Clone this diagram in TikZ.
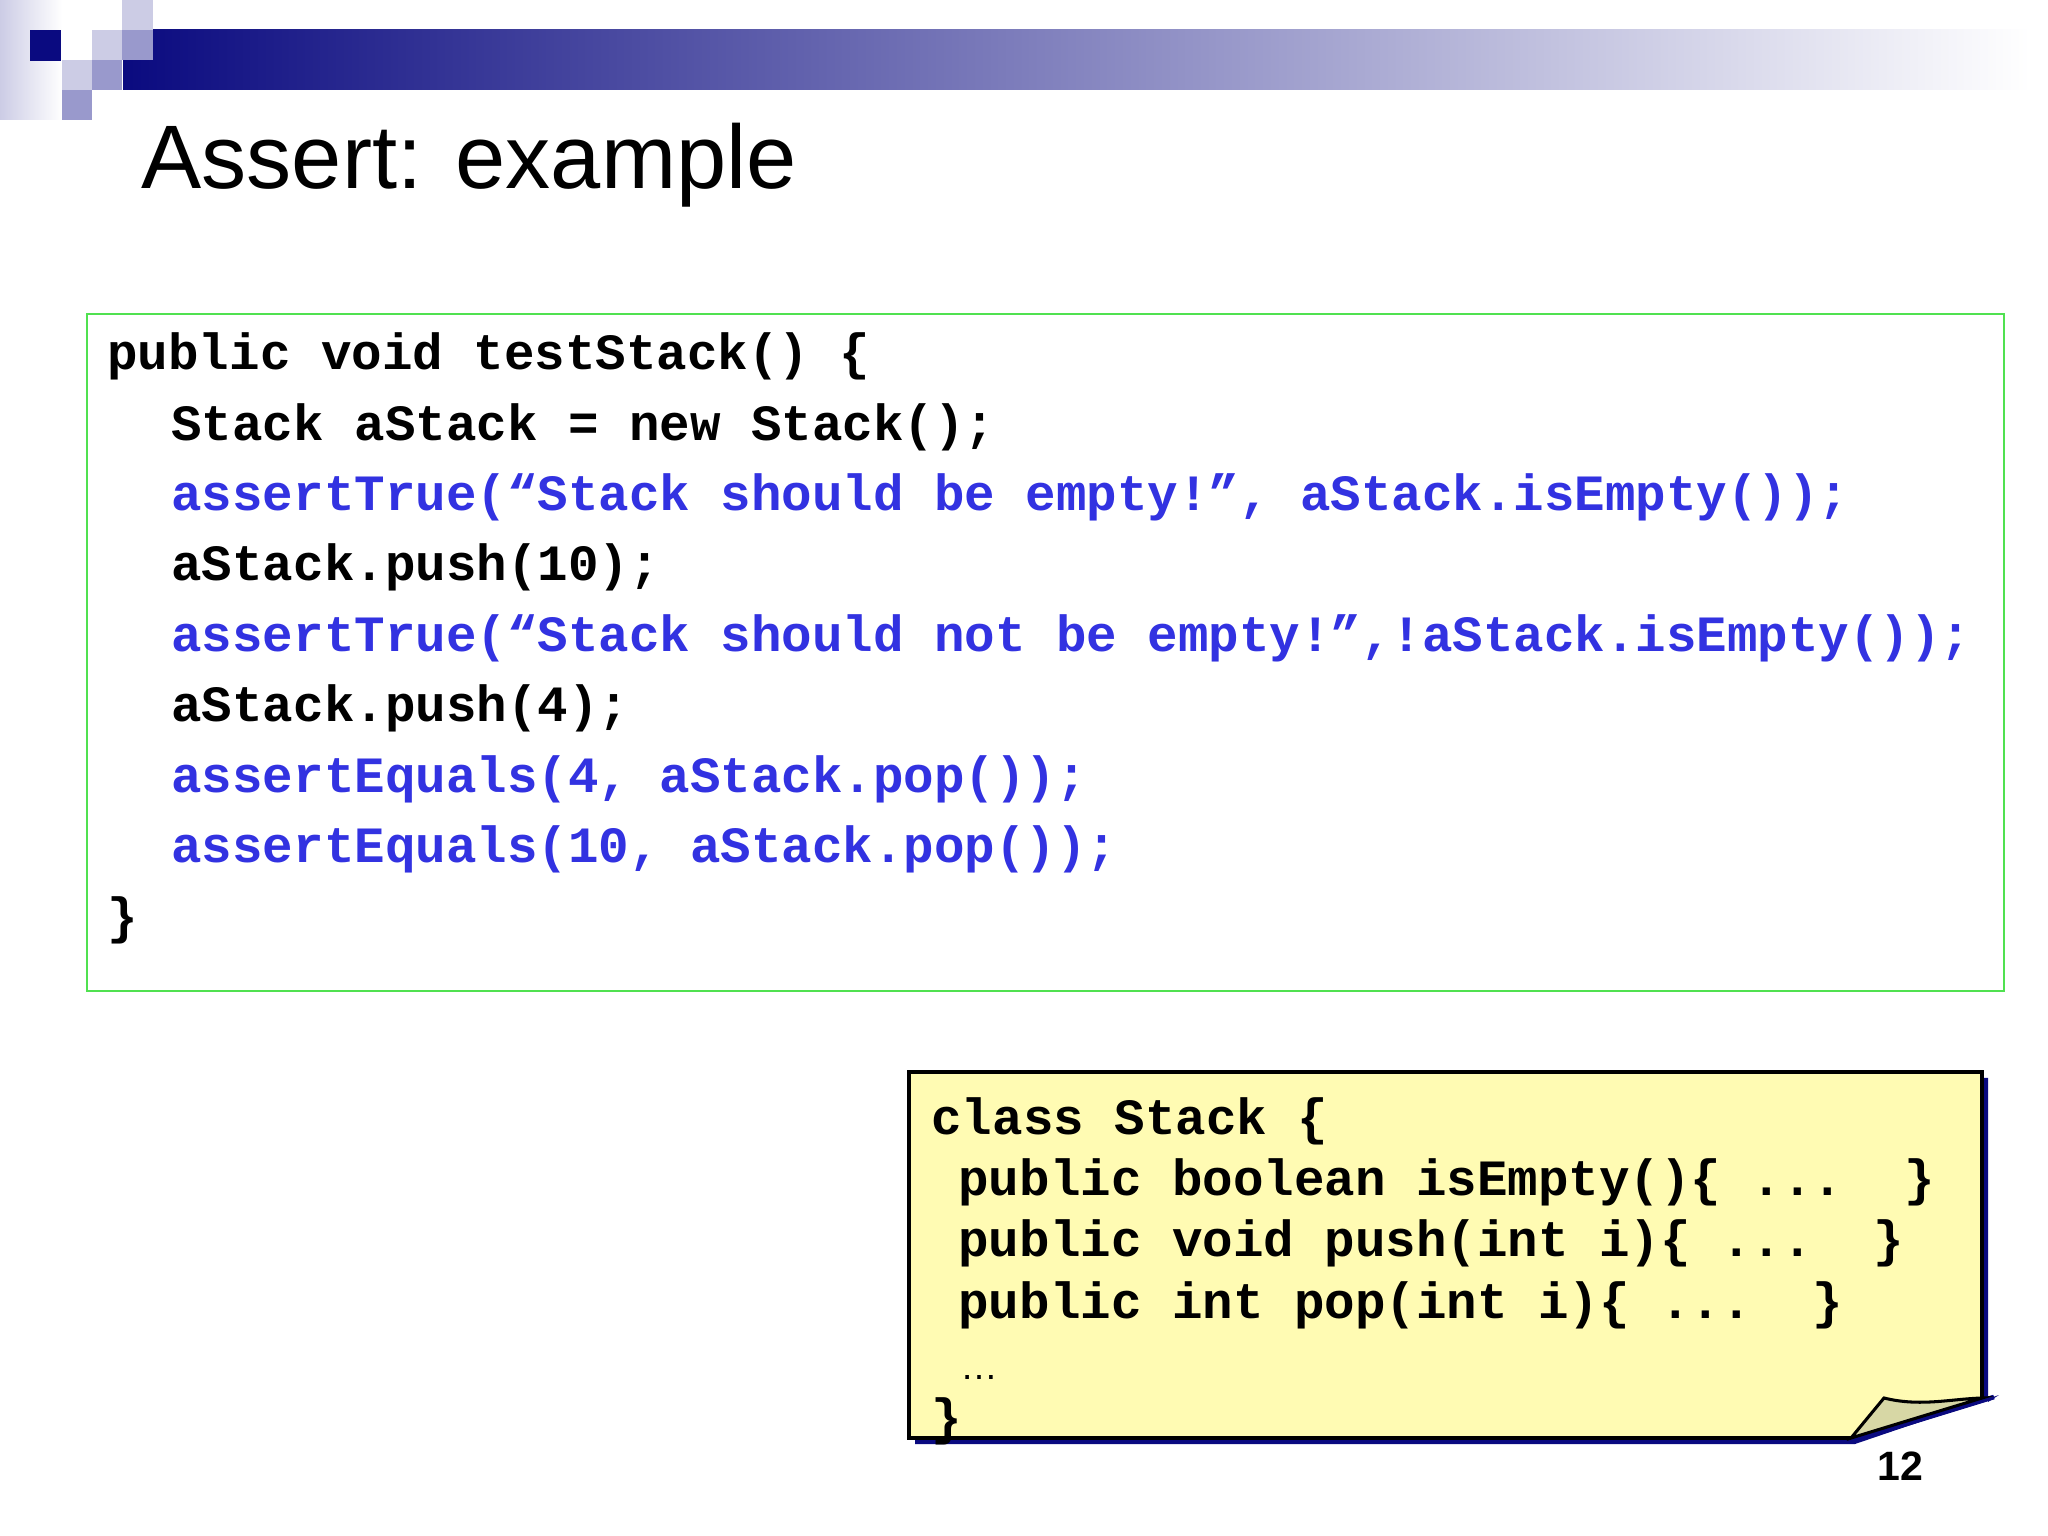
\documentclass[tikz,border=0pt]{standalone}
\usepackage{fontspec}
\setmainfont{Liberation Sans}
\setmonofont{Liberation Mono}
\begin{document}
\begin{tikzpicture}[x=0.015cm,y=-0.015cm,
  code/.style={anchor=base west,inner sep=0pt,font=\fontsize{21.7}{26}\selectfont\ttfamily\bfseries},
  bl/.style={code,text={rgb,255:red,50;green,50;blue,225}}]
\definecolor{navy}{rgb}{0.04,0.04,0.5}
\definecolor{lav}{rgb}{0.8,0.8,0.9}
\definecolor{midl}{rgb}{0.6,0.6,0.8}
\useasboundingbox (0,0) rectangle (2048,1536);
\fill[white] (0,0) rectangle (2048,1536);
% decoration
\shade[left color=lav,right color=white] (0,0) rectangle (62,120);
\shade[left color=navy,right color=white] (123,30) rectangle (2030,90);
\fill[navy] (30,30) rectangle (61,61);
\fill[lav] (92,30) rectangle (122,60);
\fill[midl] (122,30) rectangle (153,60);
\fill[lav] (122,0) rectangle (153,30);
\fill[lav] (62,60) rectangle (92,90);
\fill[midl] (92,60) rectangle (122,90);
\fill[midl] (62,90) rectangle (92,120);
\node[anchor=base west,inner sep=0pt,font=\fontsize{38.5}{44}\selectfont] (title) at (141,189) {Assert: example};
% green box
\draw[draw={rgb,255:red,80;green,225;blue,80},line width=1.2pt] (87,314) rectangle (2004,991);
\node[code] (l1) at (107,370) {public void testStack() \{};
\node[code] (l2) at (171,441) {Stack aStack = new Stack();};
\node[bl] (l3) at (171,511) {assertTrue(“Stack should be empty!”, aStack.isEmpty());};
\node[code] (l4) at (171,581) {aStack.push(10);};
\node[bl] (l5) at (171,652) {assertTrue(“Stack should not be empty!”,!aStack.isEmpty());};
\node[code] (l6) at (171,722) {aStack.push(4);};
\node[bl] (l7) at (171,793) {assertEquals(4, aStack.pop());};
\node[bl] (l8) at (171,863) {assertEquals(10, aStack.pop());};
\node[code] (l9) at (107,934) {\}};
% yellow note
\fill[navy] (915,1078) -- (1988,1078) -- (1988,1402) -- (1999,1395) -- (1855,1444) -- (915,1444) -- cycle;
\fill[yellow!30] (909,1072) -- (1982,1072) -- (1982,1398) -- (1851,1438) -- (909,1438) -- cycle;
\draw[line width=1.3pt] (1851,1438) -- (909,1438) -- (909,1072) -- (1982,1072) -- (1982,1398);
\draw[navy,line width=2pt] (1851,1441) -- (1994,1397);
\filldraw[fill={rgb,255:red,215;green,215;blue,165},line width=1.3pt] (1851,1438) -- (1884,1398) .. controls (1920,1407) and (1950,1399) .. (1982,1398) -- cycle;
\node[code] (y1) at (931,1134) {class Stack \{};
\node[code] (y2) at (958,1196) {public boolean isEmpty()\{ ...\ \ \}};
\node[code] (y3) at (958,1257) {public void push(int i)\{ ...\ \ \}};
\node[code] (y4) at (958,1318) {public int pop(int i)\{ ...\ \ \}};
\node[anchor=base west,inner sep=0pt,font=\fontsize{16}{20}\selectfont] (y5) at (960,1379) {…};
\node[code] (y6) at (931,1434) {\}};
\node[anchor=base,inner sep=0pt,font=\fontsize{17.5}{22}\selectfont\bfseries] (pg) at (1900,1480) {12};
\end{tikzpicture}
\end{document}
